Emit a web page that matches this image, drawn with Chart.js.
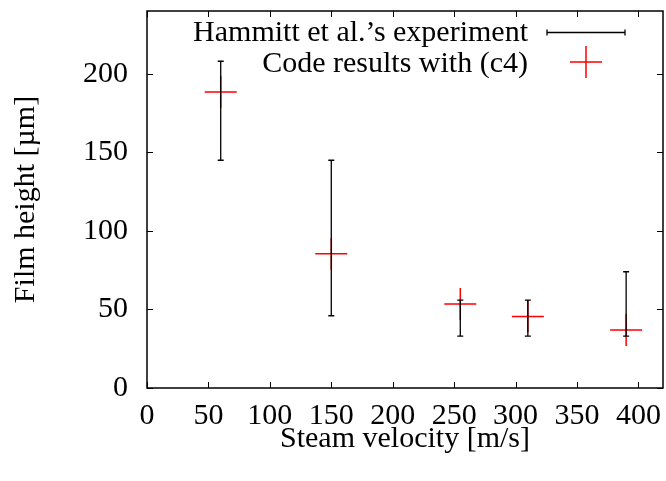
<!DOCTYPE html>
<html>
<head>
<meta charset="utf-8">
<script src="https://cdn.jsdelivr.net/npm/chart.js@4"></script>
<style>
  html, body { margin: 0; padding: 0; background: #fff; }
  #wrap { width: 666px; height: 481px; }
</style>
</head>
<body>
<div id="wrap"><canvas id="grafico"></canvas></div>
<script>
// experimento (barras de erro)
const expVelocidade = [60, 150, 255, 310, 390];
const expMin = [145, 46, 33, 33, 33];
const expMax = [208, 145, 56, 56, 74];

// resultados do codigo (c4)
const codVelocidade = [60, 150, 255, 310, 390];
const codAltura = [188.5, 85.5, 53.5, 45.5, 37];

const xTicks = [0, 50, 100, 150, 200, 250, 300, 350, 400];
const yTicks = [0, 50, 100, 150, 200];

const fonte = "'Liberation Serif', 'DejaVu Serif', serif";
const tamFonte = 30;

const pontos = codVelocidade.map((v, i) => ({ x: v, y: codAltura[i] }));

const molduraPlugin = {
  id: 'moldura',
  afterDatasetsDraw(chart) {
    const ctx = chart.ctx;
    const a = chart.chartArea;
    const sx = chart.scales.x;
    const sy = chart.scales.y;
    ctx.save();

    // barras de erro
    ctx.strokeStyle = '#000';
    ctx.lineWidth = 1.3;
    expVelocidade.forEach((v, i) => {
      const px = sx.getPixelForValue(v);
      const p1 = sy.getPixelForValue(expMin[i]);
      const p2 = sy.getPixelForValue(expMax[i]);
      ctx.beginPath();
      ctx.moveTo(px, p1); ctx.lineTo(px, p2);
      ctx.moveTo(px - 3, p1); ctx.lineTo(px + 3, p1);
      ctx.moveTo(px - 3, p2); ctx.lineTo(px + 3, p2);
      ctx.stroke();
    });

    // moldura e ticks para dentro
    ctx.lineWidth = 1.5;
    ctx.strokeRect(a.left, a.top, a.right - a.left, a.bottom - a.top);
    ctx.lineWidth = 1;
    xTicks.forEach(t => {
      const px = Math.round(sx.getPixelForValue(t)) + 0.5;
      ctx.beginPath();
      ctx.moveTo(px, a.bottom); ctx.lineTo(px, a.bottom - 6);
      ctx.moveTo(px, a.top); ctx.lineTo(px, a.top + 6);
      ctx.stroke();
    });
    yTicks.forEach(t => {
      const py = Math.round(sy.getPixelForValue(t)) + 0.5;
      ctx.beginPath();
      ctx.moveTo(a.left, py); ctx.lineTo(a.left + 6, py);
      ctx.moveTo(a.right, py); ctx.lineTo(a.right - 6, py);
      ctx.stroke();
    });

    // legenda
    ctx.font = tamFonte + 'px ' + fonte;
    ctx.fillStyle = '#000';
    ctx.textAlign = 'right';
    ctx.textBaseline = 'middle';
    ctx.fillText('Hammitt et al.\u2019s experiment', 528, 33);
    ctx.fillText('Code results with (c4)', 528, 64);
    ctx.lineWidth = 1.3;
    ctx.beginPath();
    ctx.moveTo(547, 32.5); ctx.lineTo(625, 32.5);
    ctx.moveTo(547, 29.5); ctx.lineTo(547, 35.5);
    ctx.moveTo(625, 29.5); ctx.lineTo(625, 35.5);
    ctx.stroke();
    ctx.strokeStyle = '#ff0000';
    ctx.lineWidth = 1.5;
    ctx.beginPath();
    ctx.moveTo(570, 62); ctx.lineTo(602, 62);
    ctx.moveTo(586, 46); ctx.lineTo(586, 78);
    ctx.stroke();
    ctx.restore();
  }
};

new Chart(document.getElementById('grafico'), {
  type: 'scatter',
  data: {
    datasets: [{
      label: 'Code results with (c4)',
      data: pontos,
      pointStyle: 'cross',
      pointRadius: 16,
      pointHoverRadius: 16,
      borderColor: '#ff0000',
      backgroundColor: '#ff0000',
      pointBorderWidth: 1.5
    }]
  },
  options: {
    responsive: true,
    maintainAspectRatio: false,
    animation: false,
    events: [],
    layout: { autoPadding: false, padding: { top: 11, right: 3, left: 0, bottom: 0 } },
    plugins: {
      legend: { display: false },
      tooltip: { enabled: false }
    },
    scales: {
      x: {
        type: 'linear',
        min: 0,
        max: 420,
        afterBuildTicks: s => { s.ticks = xTicks.map(v => ({ value: v })); },
        afterFit: s => { s.height = 93; s.paddingLeft = 0; s.paddingRight = 0; },
        grid: { display: false, drawTicks: false },
        border: { display: false },
        ticks: {
          color: '#000',
          padding: 10,
          maxRotation: 0,
          font: { family: fonte, size: tamFonte }
        },
        title: {
          display: true,
          text: 'Steam velocity [m/s]',
          color: '#000',
          padding: { top: 0, bottom: 24 },
          font: { family: fonte, size: tamFonte }
        }
      },
      y: {
        type: 'linear',
        min: 0,
        max: 240,
        afterBuildTicks: s => { s.ticks = yTicks.map(v => ({ value: v })); },
        afterFit: s => { s.width = 147; s.paddingTop = 0; s.paddingBottom = 0; },
        grid: { display: false, drawTicks: false },
        border: { display: false },
        ticks: {
          color: '#000',
          padding: 19,
          font: { family: fonte, size: tamFonte }
        },
        title: {
          display: true,
          text: 'Film height [\u00b5m]',
          color: '#000',
          padding: { top: 8, bottom: 0 },
          font: { family: fonte, size: tamFonte }
        }
      }
    }
  },
  plugins: [molduraPlugin]
});
</script>
</body>
</html>
